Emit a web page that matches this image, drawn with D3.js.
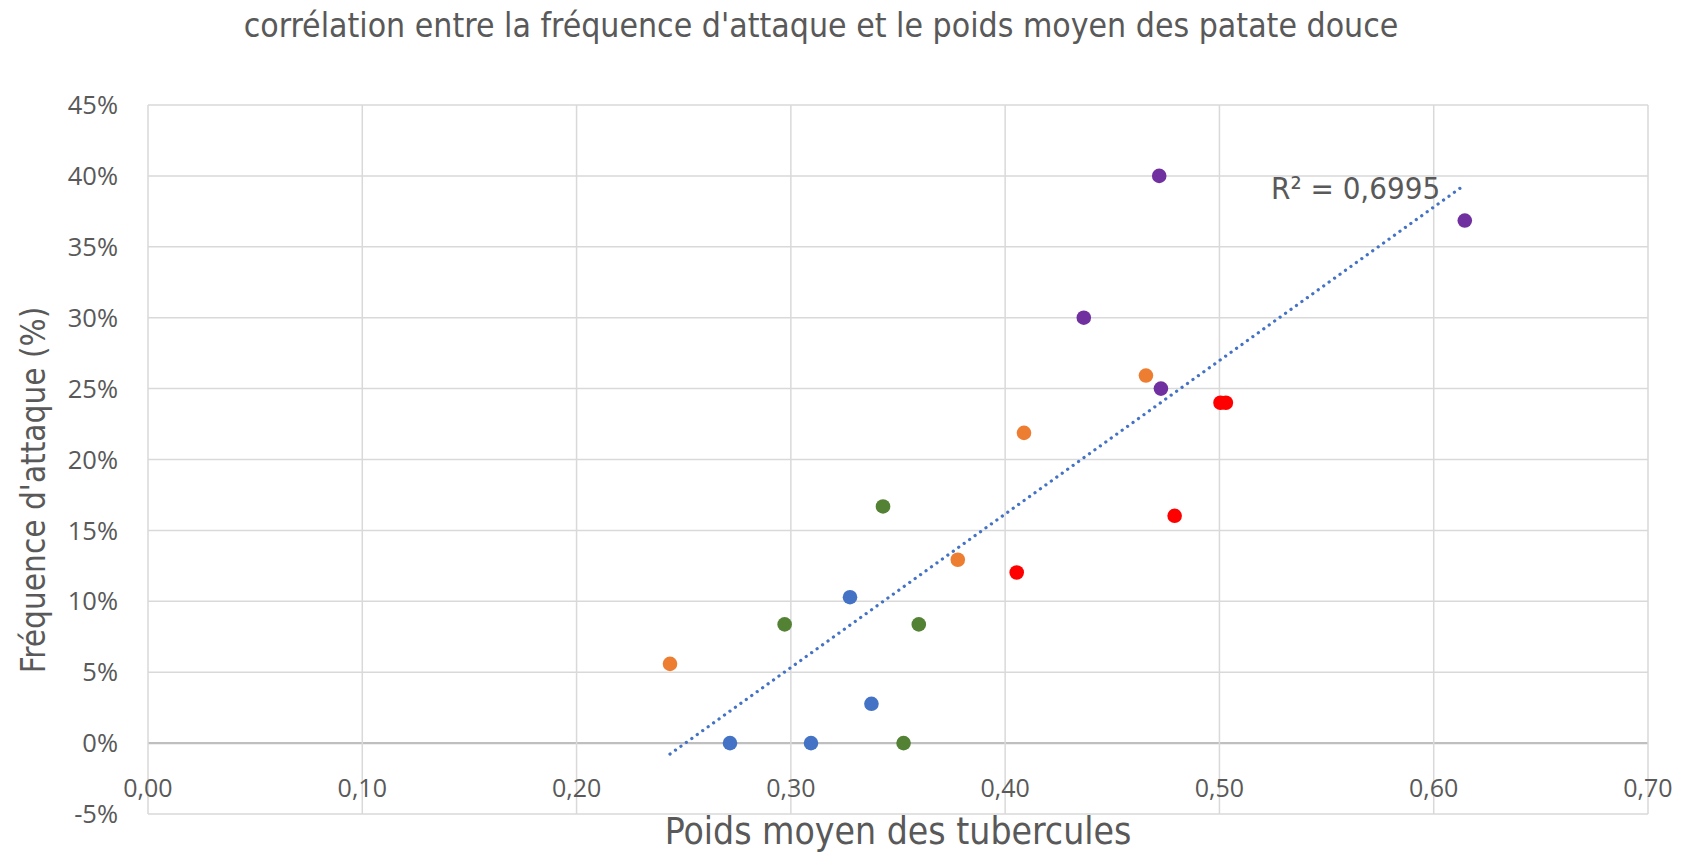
<!DOCTYPE html>
<html>
<head>
<meta charset="utf-8">
<script src="https://cdn.jsdelivr.net/npm/d3@7"></script>
<style>
  html, body { margin: 0; padding: 0; background: #fff; }
  svg { display: block; }
</style>
</head>
<body>
<svg id="chart" width="1682" height="857"></svg>
<script>
// ---- Data ----
const seriesNames = ["Série 1", "Série 2", "Série 3", "Série 4", "Série 5"];
const seriesColors = ["#4472C4", "#548235", "#ED7D31", "#FF0000", "#7030A0"];
const xBlue   = [0.2716, 0.3094, 0.3376, 0.3276];
const yBlue   = [0.0000, 0.0000, 0.0277, 0.1029];
const xGreen  = [0.2971, 0.3430, 0.3597, 0.3526];
const yGreen  = [0.0837, 0.1669, 0.0837, 0.0000];
const xOrange = [0.2436, 0.3779, 0.4088, 0.4657];
const yOrange = [0.0559, 0.1293, 0.2188, 0.2592];
const xRed    = [0.4054, 0.4791, 0.5005, 0.5030];
const yRed    = [0.1203, 0.1603, 0.2400, 0.2400];
const xPurple = [0.4719, 0.4367, 0.4727, 0.6145];
const yPurple = [0.4000, 0.3000, 0.2500, 0.3685];

const xTicks = [0, 0.1, 0.2, 0.3, 0.4, 0.5, 0.6, 0.7];
const yTicks = [-0.05, 0, 0.05, 0.10, 0.15, 0.20, 0.25, 0.30, 0.35, 0.40, 0.45];
const titleText = "corrélation entre la fréquence d'attaque et le poids moyen des patate douce";
const xTitle = "Poids moyen des tubercules";
const yTitle = "Fréquence d'attaque (%)";
const r2Text = "R² = 0,6995";

(function () {
// ---- Build ----
const xs = [xBlue, xGreen, xOrange, xRed, xPurple];
const ys = [yBlue, yGreen, yOrange, yRed, yPurple];
const points = [];
xs.forEach((arr, s) => arr.forEach((v, i) => points.push({s, x: v, y: ys[s][i]})));

const svg = d3.select("#chart");
const pL = 148, pR = 1648, pT = 105, pB = 814;
const x = d3.scaleLinear().domain([0, 0.7]).range([pL, pR]);
const y = d3.scaleLinear().domain([-0.05, 0.45]).range([pB, pT]);

const textCol = "#595959";
const narrow = "'Liberation Sans Narrow', 'DejaVu Sans Condensed', 'Roboto Condensed', sans-serif";
const tickFont = "'Open Sans', 'Noto Sans', sans-serif";

// gridlines
svg.append("g").selectAll("line").data(yTicks).join("line")
  .attr("x1", pL).attr("x2", pR)
  .attr("y1", d => y(d)).attr("y2", d => y(d))
  .attr("stroke", d => (Math.abs(d) < 1e-9) ? "#BFBFBF" : "#D9D9D9")
  .attr("stroke-width", d => (Math.abs(d) < 1e-9) ? 2.2 : 1.5);
svg.append("g").selectAll("line").data(xTicks).join("line")
  .attr("x1", d => x(d)).attr("x2", d => x(d))
  .attr("y1", pT).attr("y2", pB)
  .attr("stroke", "#D9D9D9").attr("stroke-width", 1.5);

// y tick labels
const fmtPct = v => Math.round(v * 100) + "%";
svg.append("g").selectAll("text").data(yTicks).join("text")
  .attr("x", 118).attr("y", d => y(d))
  .attr("dy", "0.36em")
  .attr("text-anchor", "end")
  .attr("font-family", tickFont).attr("font-size", 25.5)
  .attr("fill", textCol)
  .text(fmtPct);

// x tick labels (comma decimal)
const fmtX = v => d3.format(".2f")(v).replace(".", ",");
svg.append("g").selectAll("text").data(xTicks).join("text")
  .attr("x", d => x(d)).attr("y", 788)
  .attr("dy", "0.36em")
  .attr("text-anchor", "middle")
  .attr("font-family", tickFont).attr("font-size", 25)
  .attr("fill", textCol)
  .text(fmtX);

// trendline (least squares over all points)
const mx = d3.mean(points, d => d.x), my = d3.mean(points, d => d.y);
const sxy = d3.sum(points, d => (d.x - mx) * (d.y - my));
const sxx = d3.sum(points, d => (d.x - mx) ** 2);
const slope = sxy / sxx, icpt = my - slope * mx;
const xmin = d3.min(points, d => d.x), xmax = d3.max(points, d => d.x);
const line = d3.line().x(d => x(d)).y(d => y(icpt + slope * d));
svg.append("path")
  .attr("d", line([xmin, xmax]))
  .attr("fill", "none")
  .attr("stroke", "#4472C4")
  .attr("stroke-width", 3.2)
  .attr("stroke-linecap", "round")
  .attr("stroke-dasharray", "0.1 6.6");

// points
svg.append("g").selectAll("circle").data(points).join("circle")
  .attr("cx", d => x(d.x)).attr("cy", d => y(d.y))
  .attr("r", 7.3)
  .attr("fill", d => seriesColors[d.s]);

// R² label
svg.append("text")
  .attr("x", 1271).attr("y", 188).attr("dy", "0.36em")
  .attr("font-family", narrow).attr("font-size", 31)
  .attr("fill", textCol)
  .text(r2Text);

// title
svg.append("text")
  .attr("x", 821).attr("y", 25).attr("dy", "0.36em")
  .attr("text-anchor", "middle")
  .attr("font-family", narrow).attr("font-size", 33.5)
  .attr("fill", textCol)
  .text(titleText);

// axis titles
svg.append("text")
  .attr("x", 898).attr("y", 831).attr("dy", "0.36em")
  .attr("text-anchor", "middle")
  .attr("font-family", narrow).attr("font-size", 37)
  .attr("fill", textCol)
  .text(xTitle);
svg.append("text")
  .attr("transform", "translate(33,490) rotate(-90)")
  .attr("dy", "0.36em")
  .attr("text-anchor", "middle")
  .attr("font-family", narrow).attr("font-size", 33)
  .attr("fill", textCol)
  .text(yTitle);
})();
</script>
</body>
</html>
